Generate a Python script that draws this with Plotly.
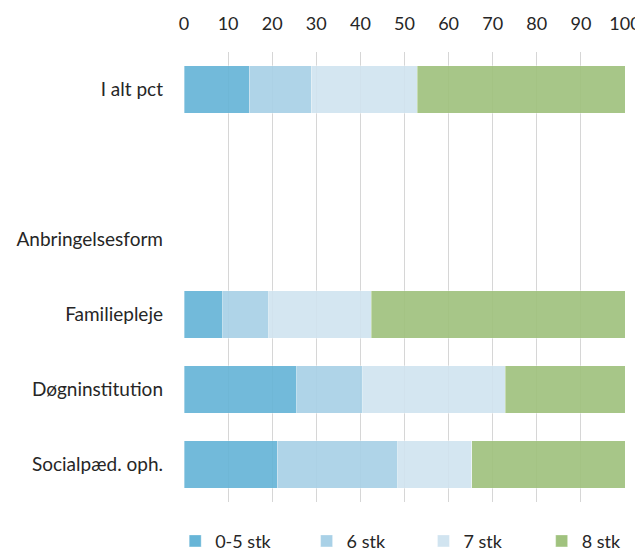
import plotly.graph_objects as go

# categories, bottom to top as drawn on the y axis
categories = ["Socialpæd. oph.", "Døgninstitution", "Familiepleje", "Anbringelsesform", " ", "I alt pct"]

# shares in percent per category (None = no bar)
s_05 = [21.1, 25.6, 8.8, None, None, 14.8]
s_6 = [27.4, 14.9, 10.4, None, None, 14.1]
s_7 = [16.8, 32.4, 23.3, None, None, 24.0]
s_8 = [34.7, 27.1, 57.5, None, None, 47.1]

series_names = ["0-5 stk", "6 stk", "7 stk", "8 stk"]
x_ticks = [0, 10, 20, 30, 40, 50, 60, 70, 80, 90, 100]

colors = ["#67b5d7", "#a9d1e7", "#d1e4f0", "#a0c27e"]
legend_ids = ["legend", "legend2", "legend3", "legend4"]
legend_x = [-0.02, 0.278, 0.543, 0.811]

fig = go.Figure()
for name, vals, col, lg in zip(series_names, [s_05, s_6, s_7, s_8], colors, legend_ids):
    fig.add_trace(go.Bar(
        y=categories, x=vals, name=name, orientation="h",
        marker=dict(color=col, opacity=0.92, line=dict(color="rgba(255,255,255,0.6)", width=0.6)),
        width=0.63, legend=lg, hoverinfo="x+name",
    ))

font = dict(family="Lato, Liberation Sans, sans-serif", size=19, color="#262626")
legend_font = dict(font, size=18)

legend_common = dict(orientation="h", yanchor="top", y=-0.046, xanchor="left",
                     font=legend_font, bgcolor="rgba(0,0,0,0)", borderwidth=0,
                     itemwidth=30)

layout_legends = {}
for lg, lx in zip(legend_ids, legend_x):
    layout_legends[lg] = dict(legend_common, x=lx)

# page body has an 8px margin, so the figure is a bit smaller than the window
fig.update_layout(
    barmode="stack",
    width=635, height=547,
    margin=dict(l=176, r=18, t=44, b=53, autoexpand=False),
    plot_bgcolor="white", paper_bgcolor="white",
    font=font,
    showlegend=True,
    **layout_legends,
)

fig.update_xaxes(
    range=[0, 100], side="top", tickvals=x_ticks, ticktext=[str(t) for t in x_ticks],
    tickfont=dict(size=18),
    showgrid=True, gridcolor="#d6d6d6", gridwidth=1, zeroline=False,
    showline=False, ticks="", ticklabelstandoff=17, fixedrange=True, automargin=False,
)
fig.update_yaxes(
    range=[-0.5, 5.5], categoryorder="array", categoryarray=categories,
    showgrid=False, zeroline=False, showline=False, ticks="",
    ticklabelstandoff=20, fixedrange=True, automargin=False,
)

fig.write_html("out.html")
